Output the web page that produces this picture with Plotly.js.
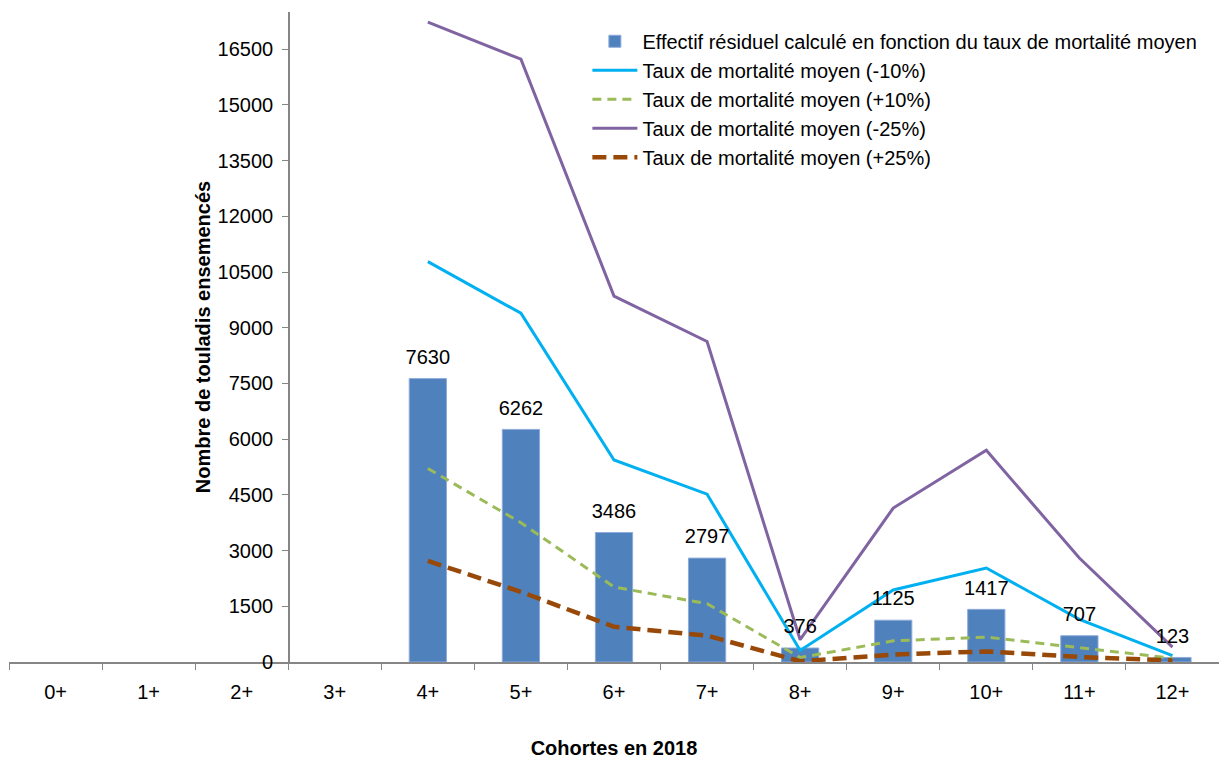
<!DOCTYPE html>
<html>
<head>
<meta charset="utf-8">
<script src="https://cdn.plot.ly/plotly-3.0.1.min.js"></script>
<style>html,body{margin:0;padding:0;background:#fff;}#chart{width:1219px;height:759px;}</style>
</head>
<body>
<div id="chart"></div>
<script>
const categories = ["0+","1+","2+","3+","4+","5+","6+","7+","8+","9+","10+","11+","12+"];
const effectif = [null,null,null,null,7630,6262,3486,2797,376,1125,1417,707,123];
const moins10 = [null,null,null,null,10780,9390,5440,4520,310,1940,2530,1150,170];
const plus10 = [null,null,null,null,5210,3750,2020,1570,120,570,670,380,100];
const moins25 = [null,null,null,null,17230,16230,9850,8630,600,4145,5700,2800,400];
const plus25 = [null,null,null,null,2720,1890,950,710,20,200,285,135,40];

const seriesNames = [
  "Effectif résiduel calculé en fonction du taux de mortalité moyen",
  "Taux de mortalité moyen (-10%)",
  "Taux de mortalité moyen (+10%)",
  "Taux de mortalité moyen (-25%)",
  "Taux de mortalité moyen (+25%)"
];

const font = "Liberation Sans, Arial, sans-serif";

const traces = [
  {type:'bar', x:categories, y:effectif, name:seriesNames[0],
   marker:{color:'#4F81BD', line:{color:'#8EAADB', width:1}}, width:0.4, hoverinfo:'x+y'},
  {type:'scatter', mode:'lines', x:categories, y:moins10, name:seriesNames[1],
   line:{color:'#00B0F0', width:3}},
  {type:'scatter', mode:'lines', x:categories, y:plus10, name:seriesNames[2],
   line:{color:'#9BBB59', width:3, dash:'9px,6px'}},
  {type:'scatter', mode:'lines', x:categories, y:moins25, name:seriesNames[3],
   line:{color:'#8064A2', width:3}},
  {type:'scatter', mode:'lines', x:categories, y:plus25, name:seriesNames[4],
   line:{color:'#984807', width:4.5, dash:'14px,7px'}},
  {type:'scatter', mode:'markers+text', x:categories, y:effectif, showlegend:false,
   text:effectif.map(v=>v==null?'':String(v)), textposition:'top center',
   marker:{size:14, color:'rgba(0,0,0,0)'}, cliponaxis:false,
   textfont:{family:font, size:20, color:'#000'}, hoverinfo:'skip'}
];

const layout = {
  width:1219, height:759,
  margin:{l:9, r:0, t:12, b:97},
  paper_bgcolor:'#fff', plot_bgcolor:'#fff',
  font:{family:font, size:20, color:'#000'},
  showlegend:true,
  legend:{x:0.478, y:0.985, xanchor:'left', yanchor:'top', bgcolor:'rgba(0,0,0,0)',
          font:{family:font, size:20, color:'#000'}, itemwidth:45, tracegroupgap:0},
  xaxis:{type:'category', range:[-0.5,12.5], showline:true, linecolor:'#868686', linewidth:1.5,
         ticks:'outside', tickson:'boundaries', ticklen:6, tickcolor:'#868686', tickwidth:1,
         showgrid:false, zeroline:false, ticklabelstandoff:11,
         tickfont:{family:font, size:20, color:'#000'},
         title:{text:'<b>Cohortes en 2018</b>', font:{family:font, size:20, color:'#000'}, standoff:39}},
  yaxis:{range:[0,17500], dtick:1500, tick0:0, tickformat:'d', anchor:'free', position:3/13, side:'left',
         showline:true, linecolor:'#868686', linewidth:1.5,
         ticks:'outside', ticklen:6, tickcolor:'#868686', tickwidth:1, ticklabelstandoff:5,
         showgrid:false, zeroline:false,
         tickfont:{family:font, size:20, color:'#000'},
         title:{text:'<b>Nombre de touladis ensemencés</b>', font:{family:font, size:20, color:'#000'}, standoff:0}}
};

Plotly.newPlot('chart', traces, layout, {displayModeBar:false, staticPlot:true});
</script>
</body>
</html>
